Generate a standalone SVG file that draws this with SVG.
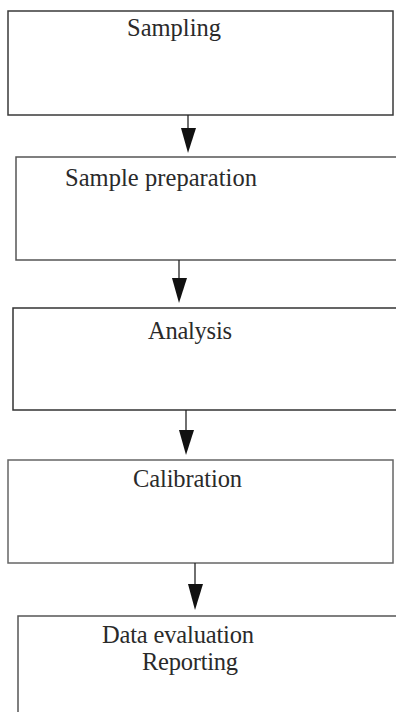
<svg xmlns="http://www.w3.org/2000/svg" width="396" height="712" viewBox="0 0 396 712">
<style>
.box{fill:#fff;stroke:#3a3a3a;stroke-width:1.5}
.lbl{font-family:"Liberation Serif","Times New Roman",serif;font-size:24.5px;fill:#2a2a2a}
.edge{stroke:#222;stroke-width:1.3;fill:none}
.head{fill:#111}
</style>
<rect width="396" height="712" fill="#fff"/>
<g id="sampling">
<rect class="box" x="8" y="11" width="385" height="104"/>
<text class="lbl" x="127" y="36" textLength="94">Sampling</text>
</g>
<g id="sample-preparation">
<path class="box" d="M400,157 H16 V260 H400" style="stroke:#555"/>
<text class="lbl" x="65" y="186" textLength="192">Sample preparation</text>
</g>
<g id="analysis">
<path class="box" d="M400,308 H13 V410 H400" style="stroke:#333"/>
<text class="lbl" x="148" y="339" textLength="84">Analysis</text>
</g>
<g id="calibration">
<rect class="box" x="8" y="460" width="385" height="103" style="stroke:#666"/>
<text class="lbl" x="133" y="487" textLength="109">Calibration</text>
</g>
<g id="data-evaluation">
<path class="box" d="M400,616 H18 V720" style="stroke:#555"/>
<text class="lbl" x="102" y="643" textLength="152">Data evaluation</text>
<text class="lbl" x="142" y="670" textLength="96">Reporting</text>
</g>
<g id="connectors">
<line class="edge" x1="188" y1="115" x2="188" y2="130"/>
<polygon class="head" points="181,128 196,128 188,153"/>
<line class="edge" x1="179" y1="260" x2="179" y2="280"/>
<polygon class="head" points="172,278 187,278 179,303"/>
<line class="edge" x1="186" y1="410" x2="186" y2="432"/>
<polygon class="head" points="179,430 194,430 186,455"/>
<line class="edge" x1="195" y1="563" x2="195" y2="585"/>
<polygon class="head" points="188,584 203,584 195,610"/>
</g>
</svg>
